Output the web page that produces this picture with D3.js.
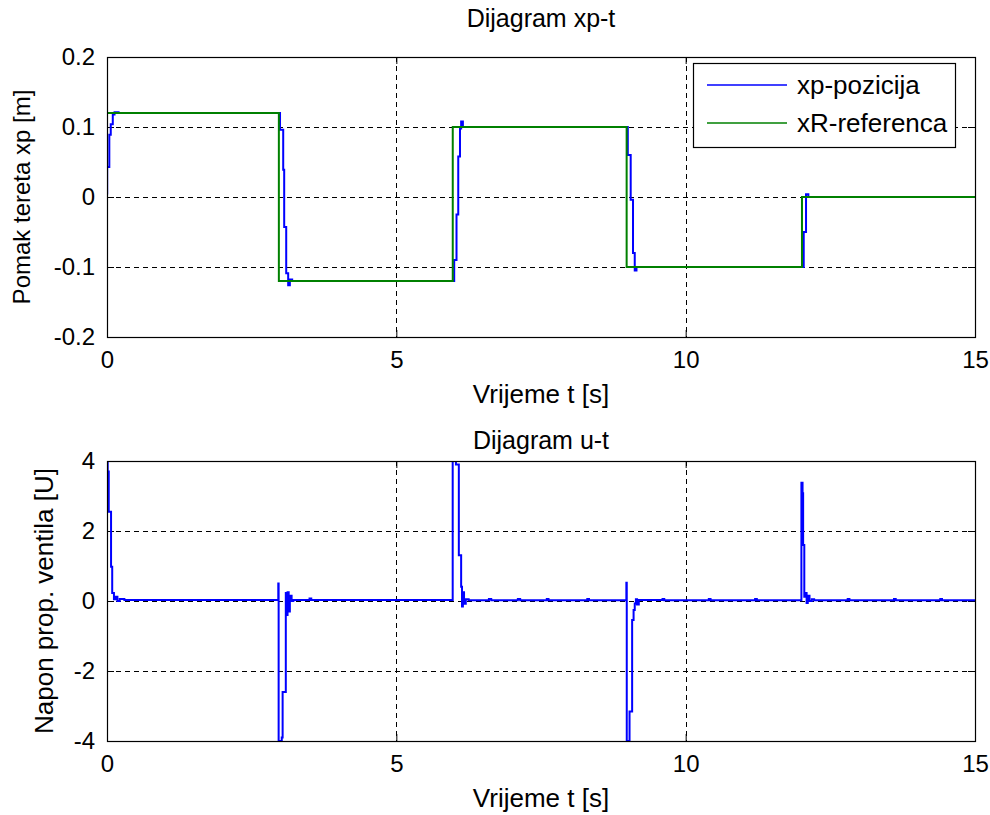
<!DOCTYPE html>
<html>
<head>
<meta charset="utf-8">
<script src="https://cdn.jsdelivr.net/npm/d3@7"></script>
<style>
  body { margin: 0; background: #fff; }
  text { font-family: "Liberation Sans", Arial, sans-serif; fill: #000; }
</style>
</head>
<body>
<div id="chart"></div>
<script>
// reference signal xR (step after each time)
var refT = [0, 2.97, 5.975, 8.98, 12.01, 15];
var refV = [0.12, -0.12, 0.1, -0.1, 0, 0];

// measured load position xp
var xpT = [0, 0.003, 0.04, 0.065, 0.1, 0.13, 0.2,
           2.99, 3.045, 3.062, 3.097, 3.131, 3.16, 3.2,
           6.0, 6.04, 6.07, 6.1, 6.12, 6.15,
           9.0, 9.05, 9.09, 9.12, 9.15,
           12.04, 12.08, 12.12, 15];
var xpV = [0.005, 0.043, 0.089, 0.104, 0.118, 0.121, 0.12,
           0.096, 0.039, -0.043, -0.109, -0.126, -0.118, -0.12,
           -0.09, -0.025, 0.058, 0.098, 0.108, 0.1,
           0.06, -0.004, -0.08, -0.105, -0.1,
           -0.05, 0.004, 0, 0];

// valve voltage u
var uT = [0, 0.012, 0.03, 0.07, 0.09, 0.12, 0.15, 0.18, 0.22, 0.3,
          2.96, 2.966, 3.02, 3.035, 3.09, 3.1, 3.12, 3.14, 3.16, 3.19, 3.22, 3.5, 3.53,
          5.974, 6.03, 6.08, 6.12, 6.135, 6.15, 6.17, 6.2, 6.25, 6.6, 6.64, 7.1, 7.14, 7.6, 7.63, 8.3, 8.33,
          8.975, 8.982, 9.03, 9.075, 9.1, 9.12, 9.14, 9.16, 9.19, 9.6, 9.63, 10.4, 10.43, 11.2, 11.23,
          12.0, 12.02, 12.03, 12.05, 12.07, 12.09, 12.11, 12.14, 12.18, 12.22, 12.8, 12.83, 13.6, 13.63, 14.4, 14.43, 15];
var uV = [4, 3.7, 2.55, 0.98, 0.23, 0.05, 0.12, 0.0, 0.06, 0.03,
          0.5, -4, -3.9, -2.6, 0.23, -0.4, 0.25, -0.3, 0.15, 0.0, 0.03, 0.07, 0.03,
          4, 3.9, 1.31, 0.41, -0.16, 0.25, -0.08, 0.05, 0.02, 0.06, 0.02, 0.06, 0.02, 0.06, 0.02, 0.06, 0.02,
          0.52, -4, -3.16, -0.54, -0.26, -0.07, 0.05, -0.1, 0.03, 0.06, 0.02, 0.06, 0.02, 0.06, 0.02,
          3.38, 3.08, 1.6, 0.12, 0.23, -0.06, 0.15, 0.0, 0.05, 0.02, 0.06, 0.02, 0.06, 0.02, 0.06, 0.02, 0.02];

var xTicks = [0, 5, 10, 15];
var topTicks = [-0.2, -0.1, 0, 0.1, 0.2];
var botTicks = [-4, -2, 0, 2, 4];

var W = 990, H = 815;
var left = 107, right = 975;

var svg = d3.select("#chart")
.append("svg")
.attr("width", W)
.attr("height", H);

function zip(a, b) {
    return a.map(function(d, i) { return [d, b[i]]; });
}

function panel(id, top, bottom, yDomain, yTicks, yFmt, title, titleY, ylabel, ylabelX, ylabelSize, series) {
    var x = d3.scaleLinear().domain([0, 15]).range([left, right]);
    var y = d3.scaleLinear().domain(yDomain).range([bottom, top]);
    var w = right - left, h = bottom - top;

    svg.append("clipPath").attr("id", id)
    .append("rect").attr("x", left).attr("y", top).attr("width", w).attr("height", h);

    // grid
    var grid = svg.append("g").attr("stroke", "#000").attr("stroke-width", 1).attr("stroke-dasharray", "5,4");
    grid.selectAll(".gx").data(xTicks.slice(1, -1)).enter().append("line")
    .attr("x1", function(d) { return Math.round(x(d)) + 0.5; })
    .attr("x2", function(d) { return Math.round(x(d)) + 0.5; })
    .attr("y1", top).attr("y2", bottom);
    grid.selectAll(".gy").data(yTicks.slice(1, -1)).enter().append("line")
    .attr("y1", function(d) { return Math.round(y(d)) + 0.5; })
    .attr("y2", function(d) { return Math.round(y(d)) + 0.5; })
    .attr("x1", left).attr("x2", right);

    // axes with inward ticks, mirrored on the other side
    svg.append("g").attr("transform", "translate(0," + bottom + ")")
    .call(d3.axisBottom(x).tickValues(xTicks).tickSize(-7).tickPadding(14).tickFormat(d3.format("d")))
    .call(function(g) { g.select(".domain").remove(); g.selectAll("text").style("font-size", "24px"); });
    svg.append("g").attr("transform", "translate(0," + top + ")")
    .call(d3.axisTop(x).tickValues(xTicks).tickSize(-7).tickFormat(""))
    .call(function(g) { g.select(".domain").remove(); });
    svg.append("g").attr("transform", "translate(" + left + ",0)")
    .call(d3.axisLeft(y).tickValues(yTicks).tickSize(-7).tickPadding(12).tickFormat(yFmt))
    .call(function(g) { g.select(".domain").remove(); g.selectAll("text").style("font-size", "24px"); });
    svg.append("g").attr("transform", "translate(" + right + ",0)")
    .call(d3.axisRight(y).tickValues(yTicks).tickSize(-7).tickFormat(""))
    .call(function(g) { g.select(".domain").remove(); });

    // lines
    series.forEach(function(s) {
        svg.append("path")
        .datum(s.data)
        .attr("clip-path", "url(#" + id + ")")
        .attr("fill", "none")
        .attr("stroke", s.color)
        .attr("stroke-width", 2)
        .attr("d", d3.line().curve(d3.curveStepAfter)
            .x(function(d) { return x(d[0]); })
            .y(function(d) { return y(d[1]); }));
    });

    // box
    svg.append("rect")
    .attr("x", left + 0.5).attr("y", top + 0.5)
    .attr("width", w).attr("height", h)
    .attr("fill", "none").attr("stroke", "#000").attr("stroke-width", 1.2);

    // title and labels
    svg.append("text")
    .attr("x", (left + right) / 2).attr("y", titleY)
    .attr("text-anchor", "middle")
    .style("font-size", "25px")
    .text(title);
    svg.append("text")
    .attr("x", (left + right) / 2).attr("y", bottom + 66)
    .attr("text-anchor", "middle")
    .style("font-size", "26px")
    .text("Vrijeme t [s]");
    svg.append("text")
    .attr("transform", "translate(" + ylabelX + "," + (top + bottom) / 2 + ") rotate(-90)")
    .attr("text-anchor", "middle")
    .style("font-size", ylabelSize)
    .text(ylabel);
}

var fmtTop = function(d) { return d === 0 ? "0" : d.toFixed(1); };
var fmtBot = function(d) { return String(d); };

panel("clipTop", 57, 337, [-0.2, 0.2], topTicks, fmtTop, "Dijagram xp-t", 27, "Pomak tereta xp [m]", 30, "24px", [
    {data: zip(xpT, xpV), color: "#0000ff"},
    {data: zip(refT, refV), color: "#008000"}
]);

panel("clipBot", 461, 741, [-4, 4], botTicks, fmtBot, "Dijagram u-t", 449, "Napon prop. ventila [U]", 53, "26px", [
    {data: zip(uT, uV), color: "#0000ff"}
]);

// legend
var lg = svg.append("g");
lg.append("rect")
.attr("x", 693.5).attr("y", 63.5).attr("width", 262).attr("height", 84)
.attr("fill", "#fff").attr("stroke", "#000").attr("stroke-width", 1.2);
var legendItems = [["xp-pozicija", "#0000ff"], ["xR-referenca", "#008000"]];
legendItems.forEach(function(d, i) {
    var yy = 85 + i * 38;
    lg.append("line").attr("x1", 707).attr("x2", 787).attr("y1", yy).attr("y2", yy)
    .attr("stroke", d[1]).attr("stroke-width", 1.6);
    lg.append("text").attr("x", 797).attr("y", yy + 9).style("font-size", "26px").text(d[0]);
});
</script>
</body>
</html>
